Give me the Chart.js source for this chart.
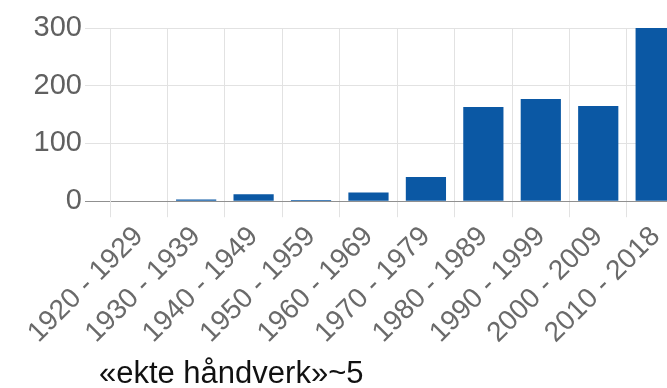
<!DOCTYPE html>
<html>
<head>
<meta charset="utf-8">
<script src="https://cdn.jsdelivr.net/npm/chart.js@4.4.1/dist/chart.umd.min.js"></script>
<style>
  html, body { margin: 0; padding: 0; background: #ffffff; overflow: hidden; width: 667px; height: 388px; }
  #wrap { position: absolute; left: -250px; top: 0; width: 950px; height: 388px; }
  canvas { display: block; }
</style>
</head>
<body>
<div id="wrap"><canvas id="c" width="950" height="388"></canvas></div>
<script>
const categories = ["1920 - 1929", "1930 - 1939", "1940 - 1949", "1950 - 1959", "1960 - 1969",
                    "1970 - 1979", "1980 - 1989", "1990 - 1999", "2000 - 2009", "2010 - 2018"];
const counts = [1, 3, 12, 2, 15, 42, 163, 177, 165, 300];
const yTicks = [0, 100, 200, 300];
const titleText = "«ekte håndverk»~5";

const FONT = "'Liberation Sans', Arial, Helvetica, sans-serif";

new Chart(document.getElementById('c'), {
  type: 'bar',
  data: {
    labels: categories,
    datasets: [{
      label: titleText,
      data: counts,
      backgroundColor: '#0b58a4',
      borderWidth: 0,
      categoryPercentage: 0.8,
      barPercentage: 0.875
    }]
  },
  options: {
    responsive: false,
    animation: false,
    events: [],
    layout: { padding: { left: 28, right: 15.6, top: 28, bottom: 0 } },
    plugins: {
      legend: { display: false },
      tooltip: { enabled: false },
      title: {
        display: true,
        text: titleText,
        position: 'bottom',
        align: 'center',
        color: '#111111',
        font: { family: FONT, size: 31, weight: 'normal', lineHeight: 0.85 },
        padding: { top: 9, bottom: 0 }
      }
    },
    scales: {
      x: {
        grid: {
          display: true,
          offset: true,
          color: '#e2e2e2',
          lineWidth: 1,
          drawTicks: true,
          tickLength: 16
        },
        border: { display: true, color: '#909090', width: 1 },
        ticks: {
          color: '#6a6a6a',
          font: { family: FONT, size: 28 },
          minRotation: 45,
          maxRotation: 45,
          autoSkip: false,
          padding: 3
        }
      },
      y: {
        min: 0,
        max: 300,
        afterBuildTicks: (axis) => { axis.ticks = yTicks.map(v => ({ value: v })); },
        afterFit: (axis) => { axis.width = 332; },
        grid: {
          color: (ctx) => (ctx.tick && ctx.tick.value === 0) ? '#909090' : '#e2e2e2',
          lineWidth: 1,
          drawTicks: true,
          tickLength: 25
        },
        border: { display: true, color: '#e2e2e2', width: 1 },
        ticks: {
          color: '#606060',
          font: { family: FONT, size: 29 },
          padding: 3
        }
      }
    }
  }
});
</script>
</body>
</html>
